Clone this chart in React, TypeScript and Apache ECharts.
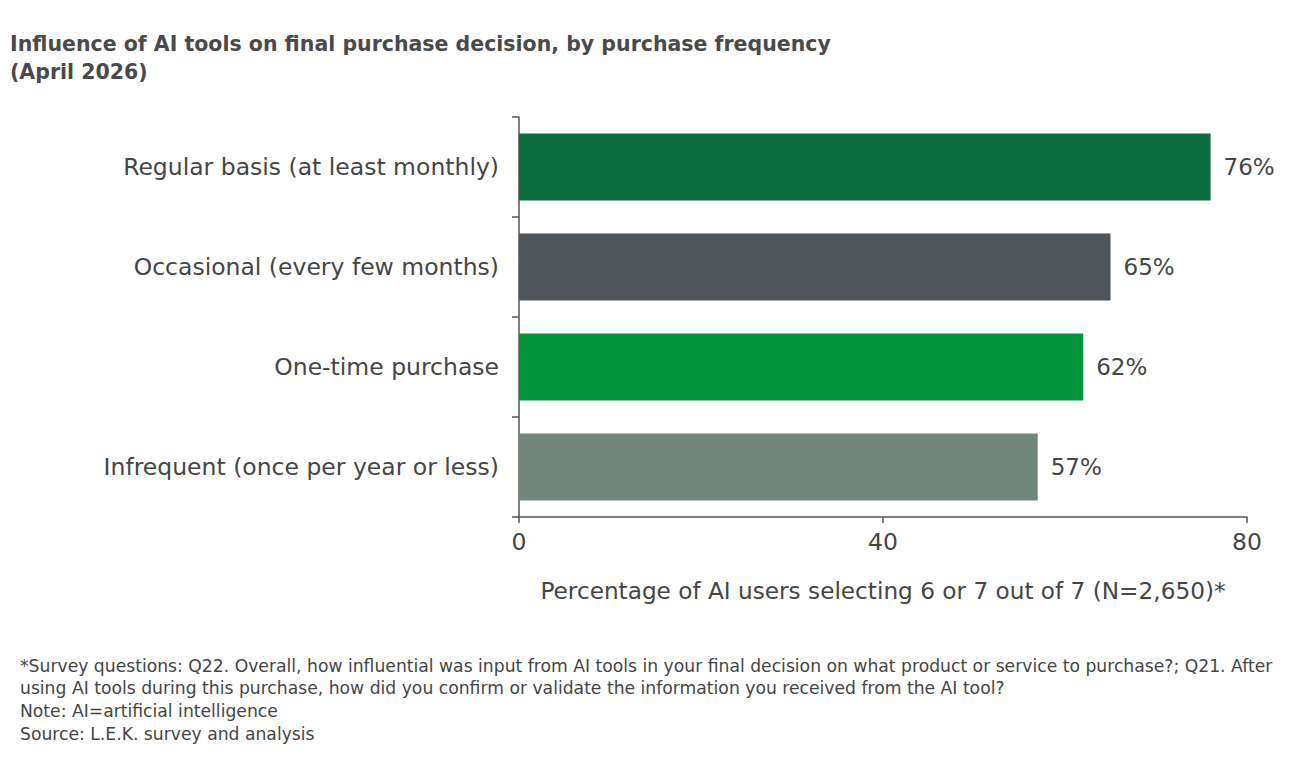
import React, { useEffect, useRef } from "react";
import * as echarts from "echarts";

const categories = [
  "Regular basis (at least monthly)",
  "Occasional (every few months)",
  "One-time purchase",
  "Infrequent (once per year or less)",
];
const values = [76, 65, 62, 57];
const barColors = ["#0a6b3e", "#50555b", "#00953a", "#72877b"];
const xTicks = [0, 40, 80];
const titleLines = [
  "Influence of AI tools on final purchase decision, by purchase frequency",
  "(April 2026)",
];
const xAxisTitle = "Percentage of AI users selecting 6 or 7 out of 7 (N=2,650)*";
const footnotes = [
  "*Survey questions: Q22. Overall, how influential was input from AI tools in your final decision on what product or service to purchase?; Q21. After",
  "using AI tools during this purchase, how did you confirm or validate the information you received from the AI tool?",
  "Note: AI=artificial intelligence",
  "Source: L.E.K. survey and analysis",
];

const FONT = "'DejaVu Sans', sans-serif";
const TEXT = "#454545";

export default function App() {
  const ref = useRef<HTMLDivElement>(null);
  useEffect(() => {
    if (!ref.current) return;
    const chart = echarts.init(ref.current, null, { renderer: "svg" });
    chart.setOption({
      animation: false,
      backgroundColor: "#ffffff",
      textStyle: { fontFamily: FONT },
      grid: { left: 519, top: 117, right: 53, bottom: 251, containLabel: false },
      xAxis: {
        type: "value",
        min: 0,
        max: 80,
        interval: 40,
        axisLine: { show: true, lineStyle: { color: "#555", width: 1.5 } },
        axisTick: { show: true, length: 6, lineStyle: { color: "#555", width: 1.5 } },
        splitLine: { show: false },
        axisLabel: {
          color: TEXT,
          fontSize: 23.5,
          margin: 13,
          fontFamily: FONT,
          formatter: (v: number) => (xTicks.includes(v) ? String(v) : ""),
        },
        name: xAxisTitle,
        nameLocation: "middle",
        nameGap: 62,
        nameTextStyle: { color: TEXT, fontSize: 23.2, fontFamily: FONT },
      },
      yAxis: {
        type: "category",
        inverse: true,
        data: categories,
        axisLine: { show: true, lineStyle: { color: "#555", width: 1.5 } },
        axisTick: { show: true, length: 7, lineStyle: { color: "#555", width: 1.5 } },
        axisLabel: { color: TEXT, fontSize: 23.5, margin: 20, fontFamily: FONT },
      },
      series: [
        {
          type: "bar",
          barWidth: "67%",
          data: values.map((v, i) => ({ value: v, itemStyle: { color: barColors[i] } })),
          label: {
            show: true,
            position: "right",
            distance: 13,
            color: TEXT,
            fontSize: 23,
            fontFamily: FONT,
            formatter: (p: any) => p.value + "%",
          },
        },
      ],
      graphic: [
        ...titleLines.map((t, i) => ({
          type: "text",
          left: 10,
          top: 33 + i * 28,
          style: { text: t, fill: "#4a4a4a", font: `bold 20.5px ${FONT}` },
        })),
        ...footnotes.map((t, i) => ({
          type: "text",
          left: 20,
          top: 657 + i * 22.7,
          style: { text: t, fill: TEXT, font: `17.2px ${FONT}` },
        })),
      ],
    });
    return () => chart.dispose();
  }, []);
  return <div ref={ref} style={{ width: 1300, height: 768, margin: -8 }} />;
}
